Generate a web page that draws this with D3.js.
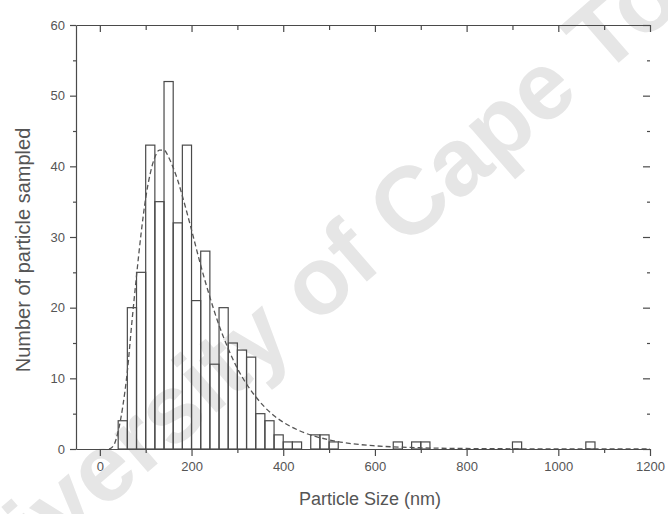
<!DOCTYPE html>
<html><head><meta charset="utf-8">
<script src="https://cdn.jsdelivr.net/npm/d3@7"></script>
<style>html,body{margin:0;padding:0;background:#fff;}svg{display:block;}</style>
</head><body>
<svg id="chart" width="668" height="514"></svg>
<script>
// ---- data ----
const binWidth = 20;
const binStarts = [40,60,80,100,120,140,160,180,200,220,240,260,280,300,320,340,360,380,400,420,460,480,500,640,680,700,900,1060];
const counts    = [4,20,25,43,35,52,32,43,21,28,12,20,15,14,13,5,4,2,1,1,2,2,1,1,1,1,1,1];
const fitX = [20,30,40,50,60,70,80,90,100,110,120,130,140,150,160,170,180,200,220,240,260,280,300,320,340,360,380,400,450,500,550,600,700,800,900,1000,1100,1200];
const fitY = [0,0.5,2.5,6,11,18,24.5,30.5,35.5,39,41.3,42.3,42.3,41.3,39.8,38,35.8,31,26,21.5,17.5,14.2,11.4,9.2,7.4,5.9,4.7,3.8,2.2,1.3,0.75,0.45,0.17,0.07,0.03,0.01,0,0];
const xTickLabels = [0,200,400,600,800,1000,1200];
const yTickLabels = [0,10,20,30,40,50,60];
const xTitle = "Particle Size (nm)";
const yTitle = "Number of particle sampled";
const watermark = "University of Cape Town";

// ---- layout ----
const svg = d3.select("#chart");
const L = 76, R = 650, T = 25, B = 449;
const x = d3.scaleLinear().domain([-52, 1200]).range([L, R]);
const y = d3.scaleLinear().domain([0, 60]).range([B, T]);
const ink = "#4a4a4a";
const font = "Liberation Sans, Arial, sans-serif";

// watermark (behind)
svg.append("g").attr("transform", "translate(349,264) rotate(-41)")
  .append("text").attr("x", 0).attr("y", 25).attr("text-anchor", "middle")
  .attr("font-family", font).attr("font-weight", "bold")
  .attr("font-size", 96).attr("fill", "#e6e6e6").text(watermark);

// bars
svg.append("g").selectAll("rect").data(binStarts).join("rect")
  .attr("x", d => x(d)).attr("width", d => x(d + binWidth) - x(d))
  .attr("y", (d, i) => y(counts[i])).attr("height", (d, i) => y(0) - y(counts[i]))
  .attr("fill", "none").attr("stroke", ink).attr("stroke-width", 1.2);

// fitted curve
const pts = fitX.map((v, i) => [v, fitY[i]]);
svg.append("path").datum(pts)
  .attr("d", d3.line().x(d => x(d[0])).y(d => y(d[1])).curve(d3.curveMonotoneX))
  .attr("fill", "none").attr("stroke", "#555").attr("stroke-width", 1.3)
  .attr("stroke-dasharray", "5,3");

// axes
const fmt = d3.format("d");
const xMinor = d3.range(100, 1200, 200);
const yMinor = d3.range(5, 60, 10);

const gB = svg.append("g").attr("transform", `translate(0,${B})`)
  .call(d3.axisBottom(x).tickValues(xTickLabels).tickFormat(fmt).tickSize(7).tickPadding(6).tickSizeOuter(0));
gB.append("g").call(d3.axisBottom(x).tickValues(xMinor).tickSize(4).tickFormat("").tickSizeOuter(0)).select(".domain").remove();

const gT = svg.append("g").attr("transform", `translate(0,${T})`)
  .call(d3.axisBottom(x).tickValues(xTickLabels).tickSize(7).tickFormat("").tickSizeOuter(0));
gT.append("g").call(d3.axisBottom(x).tickValues(xMinor).tickSize(5).tickFormat("").tickSizeOuter(0)).select(".domain").remove();

const gL = svg.append("g").attr("transform", `translate(${L},0)`)
  .call(d3.axisLeft(y).tickValues(yTickLabels).tickFormat(fmt).tickSize(6).tickPadding(5).tickSizeOuter(0));
gL.append("g").call(d3.axisLeft(y).tickValues(yMinor).tickSize(3).tickFormat("").tickSizeOuter(0)).select(".domain").remove();

const gR = svg.append("g").attr("transform", `translate(${R},0)`)
  .call(d3.axisRight(y).tickValues(yTickLabels).tickSize(-7).tickFormat("").tickSizeOuter(0));
gR.select(".domain").remove();
gR.append("g").call(d3.axisRight(y).tickValues(yMinor).tickSize(-3).tickFormat("").tickSizeOuter(0)).select(".domain").remove();

svg.selectAll(".domain, .tick line").attr("stroke", ink).attr("stroke-width", 1.2);
svg.selectAll(".tick text").attr("font-family", font).attr("font-size", 13).attr("fill", "#555");

// titles
svg.append("text").attr("x", (L + R) / 2 + 7).attr("y", 505).attr("text-anchor", "middle")
  .attr("font-family", font).attr("font-size", 18).attr("fill", "#555").text(xTitle);
svg.append("text").attr("transform", `translate(30,${(T + B) / 2 + 13}) rotate(-90)`).attr("text-anchor", "middle")
  .attr("font-family", font).attr("font-size", 20).attr("fill", "#555").text(yTitle);
</script>
</body></html>
